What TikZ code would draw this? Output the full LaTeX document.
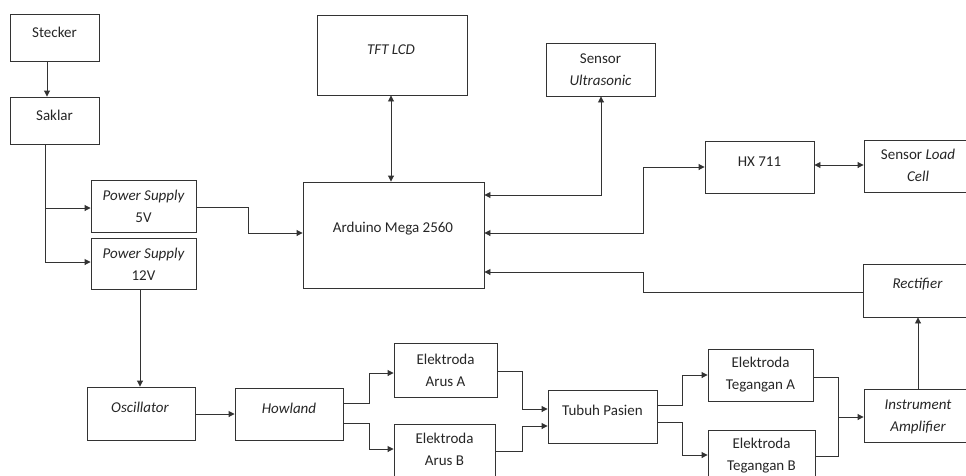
\documentclass[tikz,border=0pt]{standalone}
\usepackage{fontspec}
\setmainfont{Carlito}
\usetikzlibrary{arrows.meta,calc}
\tikzset{
 box/.style={draw=black!80, line width=0.9pt, inner sep=0pt},
 txt/.style={font=\fontsize{15}{22}\selectfont, align=center, text=black!85, inner sep=0pt},
 ln/.style={draw=black!80, line width=0.9pt},
 arr/.style={ln, -{Triangle[length=6pt,width=6pt]}},
 darr/.style={ln, {Triangle[length=6pt,width=6pt]}-{Triangle[length=6pt,width=6pt]}},
}
\newcommand\bbx[5]{\node[box, minimum width={(#4-#2)*1pt}, minimum height={(#5-#3)*1pt}] (#1) at ({(#2+#4)/2},{(#3+#5)/2}) {};}
\begin{document}
\begin{tikzpicture}[x=1pt,y=-1pt]
\useasboundingbox (0,0) rectangle (966,475);
% boxes
\bbx{stecker}{10}{14}{99}{61}
\bbx{saklar}{10}{97}{99}{144}
\bbx{ps5}{91}{180}{196}{232}
\bbx{ps12}{91}{238}{196}{289}
\bbx{tft}{317}{15}{467}{95}
\bbx{ultra}{546}{43}{655}{96}
\bbx{arduino}{303}{182}{484}{288}
\bbx{hx}{705}{141}{814}{193}
\bbx{load}{864}{140}{972}{192}
\bbx{rect}{863}{264}{972}{317}
\bbx{osc}{87}{387}{195}{440}
\bbx{howland}{235}{388}{343}{440}
\bbx{elA}{394}{343}{497}{397}
\bbx{elB}{394}{424}{495}{480}
\bbx{tubuh}{548}{390}{657}{443}
\bbx{elTA}{708}{349}{813}{401}
\bbx{elTB}{708}{430}{815}{485}
\bbx{inst}{864}{389}{972}{442}
% texts
\node[txt] (stecker-t) at (54.5,32) {Stecker};
\node[txt] (saklar-t) at (54.5,115) {Saklar};
\node[txt] (ps5-t) at (143.5,206.5) {\itshape Power Supply\\5V};
\node[txt] (ps12-t) at (143.5,264.5) {\itshape Power Supply\\12V};
\node[txt] (tft-t) at (391,50) {\itshape TFT LCD};
\node[txt] (ultra-t) at (600.5,69.5) {Sensor\\\itshape Ultrasonic};
\node[txt] (arduino-t) at (393,229) {Arduino Mega 2560};
\node[txt] (hx-t) at (759.5,162) {HX 711};
\node[txt] (load-t) at (918,165.5) {Sensor \textit{Load}\\\itshape Cell};
\node[txt] (rect-t) at (917.5,284) {\itshape Rectifier};
\node[txt] (osc-t) at (140,407) {\itshape Oscillator};
\node[txt] (howland-t) at (289,408) {\itshape Howland};
\node[txt] (elA-t) at (445.5,370.5) {Elektroda\\Arus A};
\node[txt] (elB-t) at (444.5,449.5) {Elektroda\\Arus B};
\node[txt] (tubuh-t) at (602.5,410) {Tubuh Pasien};
\node[txt] (elTA-t) at (760.5,375) {Elektroda\\Tegangan A};
\node[txt] (elTB-t) at (761.5,455.5) {Elektroda\\Tegangan B};
\node[txt] (inst-t) at (918,416.5) {\itshape Instrument\\\itshape Amplifier};
% connectors
\draw[arr] (stecker.south -| 47,0) -- (saklar.north -| 47,0);
\draw[arr] (saklar.south -| 45,0) |- (ps12.west |- 0,262);
\draw[arr] (45,208) -- (ps5.west |- 0,208);
\draw[arr] (ps5.east |- 0,207) -- (248,207) -- (248,233) -- (arduino.west |- 0,233);
\draw[arr] (ps12.south -| 140,0) -- (osc.north -| 140,0);
\draw[darr] (tft.south -| 391,0) -- (arduino.north -| 391,0);
\draw[darr] (ultra.south -| 601,0) |- (arduino.east |- 0,195);
\draw[darr] (arduino.east |- 0,233) -- (643,233) -- (643,167) -- (hx.west |- 0,167);
\draw[darr] (hx.east |- 0,165) -- (load.west |- 0,165);
\draw[arr] (rect.west |- 0,292) -- (643,292) -- (643,272) -- (arduino.east |- 0,272);
\draw[arr] (inst.north -| 918,0) -- (rect.south -| 918,0);
\draw[arr] (osc.east |- 0,414) -- (howland.west |- 0,414);
\draw[arr] (howland.east |- 0,403) -- (369,403) -- (369,373) -- (elA.west |- 0,373);
\draw[arr] (howland.east |- 0,423) -- (369,423) -- (369,449) -- (elB.west |- 0,449);
\draw[arr] (elA.east |- 0,371) -- (522,371) -- (522,409) -- (tubuh.west |- 0,409);
\draw[arr] (elB.east |- 0,451) -- (522,451) -- (522,426) -- (tubuh.west |- 0,426);
\draw[arr] (tubuh.east |- 0,405) -- (682,405) -- (682,375) -- (elTA.west |- 0,375);
\draw[arr] (tubuh.east |- 0,422) -- (682,422) -- (682,455) -- (elTB.west |- 0,455);
\draw[arr] (elTA.east |- 0,377) -- (838,377) -- (838,417) -- (inst.west |- 0,417);
\draw[ln] (elTB.east |- 0,456) -- (838,456) -- (838,417);
\end{tikzpicture}
\end{document}
